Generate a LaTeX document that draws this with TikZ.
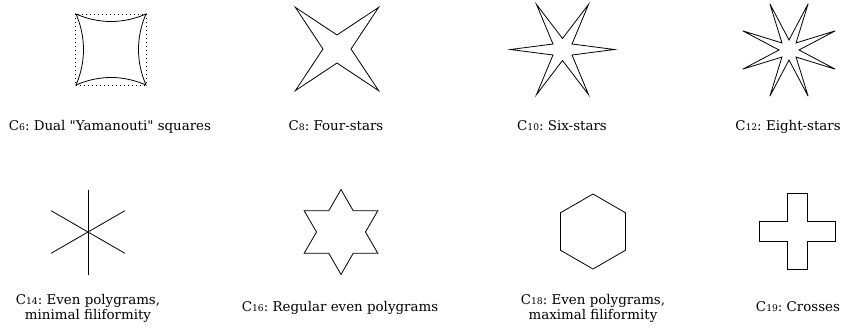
\documentclass[tikz,border=0pt]{standalone}
\usepackage{fontspec}
\setmainfont{DejaVu Serif}[Ligatures=TeXOff]
\frenchspacing
\newcommand{\sdig}[1]{{\fontsize{9.2pt}{9.2pt}\selectfont #1}}
\begin{document}
\begin{tikzpicture}[x=1pt,y=-1pt,
  lbl/.style={font=\fontsize{13.4pt}{12.6pt}\selectfont, inner sep=0pt, anchor=base, align=center},
  shp/.style={draw=black, line width=0.8pt, line join=miter}]
\useasboundingbox (0,0) rectangle (844,327);
% C6
\draw[line width=1pt, dash pattern=on 1pt off 3pt] (75,14) rectangle (146,85);
\draw[shp] (76,14) .. controls (99,24) and (123,24) .. (146,14)
  .. controls (136,37) and (136,62) .. (146,85)
  .. controls (123,75) and (99,75) .. (76,85)
  .. controls (86,62) and (86,37) .. cycle;
% C8
\draw[shp, shift={(337,49)}] (45:59pt) -- (90:14pt) -- (135:59pt) -- (180:14pt) -- (225:59pt) -- (270:14pt) -- (315:59pt) -- (0:14pt) -- cycle;
% C10
\draw[shp, shift={(562.5,49.5)}] (0:52pt)
  \foreach \a in {0,60,...,300} { -- (\a+30:11pt) -- (\a+60:52pt) } -- cycle;
% C12
\draw[shp, shift={(789,50)}] (22.5:50pt)
  \foreach \a in {22.5,67.5,...,337.5} { -- (\a+22.5:10pt) -- (\a+45:50pt) } -- cycle;
% C14
\foreach \a in {90,30,150} \draw[shp, shift={(88,232)}] (\a:42.5pt) -- (\a+180:42.5pt);
% C16
\draw[shp, shift={(341,232)}] (90:42.5pt)
  \foreach \a in {90,150,...,390} { -- (\a+30:24.5pt) -- (\a+60:42.5pt) } -- cycle;
% C18
\draw[shp, shift={(593,231.5)}] (90:37.5pt) \foreach \a in {150,210,...,390} { -- (\a:37.5pt) } -- cycle;
% C19
\draw[shp, shift={(797.5,231.5)}] (-10,-38) -- (10,-38) -- (10,-10) -- (38,-10) -- (38,10) -- (10,10) -- (10,38) -- (-10,38) -- (-10,10) -- (-38,10) -- (-38,-10) -- (-10,-10) -- cycle;
% labels
\node[lbl] (l6) at (110,130) {C\sdig{6}: Dual "Yamanouti" squares};
\node[lbl] (l8) at (336,130) {C\sdig{8}: Four-stars};
\node[lbl] (l10) at (562,130) {C\sdig{10}: Six-stars};
\node[lbl] (l12) at (788,130) {C\sdig{12}: Eight-stars};
\node[lbl] (l14) at (88,319) {C\sdig{14}: Even polygrams,\\minimal filiformity};
\node[lbl] (l16) at (340,311) {C\sdig{16}: Regular even polygrams};
\node[lbl] (l18) at (593,319) {C\sdig{18}: Even polygrams,\\maximal filiformity};
\node[lbl] (l19) at (798,311) {C\sdig{19}: Crosses};
\end{tikzpicture}
\end{document}
